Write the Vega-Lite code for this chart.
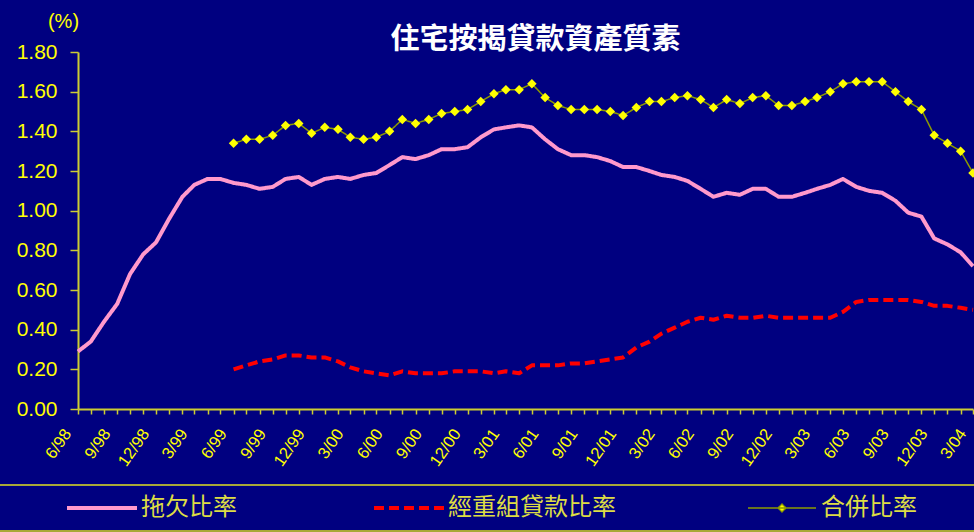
{
  "$schema": "https://vega.github.io/schema/vega-lite/v6.json",
  "width": 895,
  "height": 357,
  "autosize": {"type": "none"},
  "padding": {"left": 78, "top": 52, "right": 1, "bottom": 123},
  "background": "#000080",
  "config": {"view": {"stroke": null}, "font": "Liberation Sans", "legend": {"strokeWidth": 2}},
  "title": {"text": "住宅按揭貸款資產質素", "font": "Noto Sans CJK TC", "fontSize": 29, "fontWeight": "bold", "color": "#FFFFFF", "anchor": "middle", "frame": "group", "dx": 10, "offset": 0, "dy": 44},
  "data": {"values": [
    {"月份": "1998-06", "拖欠比率": 0.29},
    {"月份": "1998-07", "拖欠比率": 0.34},
    {"月份": "1998-08", "拖欠比率": 0.44},
    {"月份": "1998-09", "拖欠比率": 0.53},
    {"月份": "1998-10", "拖欠比率": 0.68},
    {"月份": "1998-11", "拖欠比率": 0.78},
    {"月份": "1998-12", "拖欠比率": 0.84},
    {"月份": "1999-01", "拖欠比率": 0.96},
    {"月份": "1999-02", "拖欠比率": 1.07},
    {"月份": "1999-03", "拖欠比率": 1.13},
    {"月份": "1999-04", "拖欠比率": 1.16},
    {"月份": "1999-05", "拖欠比率": 1.16},
    {"月份": "1999-06", "拖欠比率": 1.14, "經重組貸款比率": 0.20, "合併比率": 1.34},
    {"月份": "1999-07", "拖欠比率": 1.13, "經重組貸款比率": 0.22, "合併比率": 1.36},
    {"月份": "1999-08", "拖欠比率": 1.11, "經重組貸款比率": 0.24, "合併比率": 1.36},
    {"月份": "1999-09", "拖欠比率": 1.12, "經重組貸款比率": 0.25, "合併比率": 1.38},
    {"月份": "1999-10", "拖欠比率": 1.16, "經重組貸款比率": 0.27, "合併比率": 1.43},
    {"月份": "1999-11", "拖欠比率": 1.17, "經重組貸款比率": 0.27, "合併比率": 1.44},
    {"月份": "1999-12", "拖欠比率": 1.13, "經重組貸款比率": 0.26, "合併比率": 1.39},
    {"月份": "2000-01", "拖欠比率": 1.16, "經重組貸款比率": 0.26, "合併比率": 1.42},
    {"月份": "2000-02", "拖欠比率": 1.17, "經重組貸款比率": 0.24, "合併比率": 1.41},
    {"月份": "2000-03", "拖欠比率": 1.16, "經重組貸款比率": 0.21, "合併比率": 1.37},
    {"月份": "2000-04", "拖欠比率": 1.18, "經重組貸款比率": 0.19, "合併比率": 1.36},
    {"月份": "2000-05", "拖欠比率": 1.19, "經重組貸款比率": 0.18, "合併比率": 1.37},
    {"月份": "2000-06", "拖欠比率": 1.23, "經重組貸款比率": 0.17, "合併比率": 1.40},
    {"月份": "2000-07", "拖欠比率": 1.27, "經重組貸款比率": 0.19, "合併比率": 1.46},
    {"月份": "2000-08", "拖欠比率": 1.26, "經重組貸款比率": 0.18, "合併比率": 1.44},
    {"月份": "2000-09", "拖欠比率": 1.28, "經重組貸款比率": 0.18, "合併比率": 1.46},
    {"月份": "2000-10", "拖欠比率": 1.31, "經重組貸款比率": 0.18, "合併比率": 1.49},
    {"月份": "2000-11", "拖欠比率": 1.31, "經重組貸款比率": 0.19, "合併比率": 1.50},
    {"月份": "2000-12", "拖欠比率": 1.32, "經重組貸款比率": 0.19, "合併比率": 1.51},
    {"月份": "2001-01", "拖欠比率": 1.37, "經重組貸款比率": 0.19, "合併比率": 1.55},
    {"月份": "2001-02", "拖欠比率": 1.41, "經重組貸款比率": 0.18, "合併比率": 1.59},
    {"月份": "2001-03", "拖欠比率": 1.42, "經重組貸款比率": 0.19, "合併比率": 1.61},
    {"月份": "2001-04", "拖欠比率": 1.43, "經重組貸款比率": 0.18, "合併比率": 1.61},
    {"月份": "2001-05", "拖欠比率": 1.42, "經重組貸款比率": 0.22, "合併比率": 1.64},
    {"月份": "2001-06", "拖欠比率": 1.36, "經重組貸款比率": 0.22, "合併比率": 1.57},
    {"月份": "2001-07", "拖欠比率": 1.31, "經重組貸款比率": 0.22, "合併比率": 1.53},
    {"月份": "2001-08", "拖欠比率": 1.28, "經重組貸款比率": 0.23, "合併比率": 1.51},
    {"月份": "2001-09", "拖欠比率": 1.28, "經重組貸款比率": 0.23, "合併比率": 1.51},
    {"月份": "2001-10", "拖欠比率": 1.27, "經重組貸款比率": 0.24, "合併比率": 1.51},
    {"月份": "2001-11", "拖欠比率": 1.25, "經重組貸款比率": 0.25, "合併比率": 1.50},
    {"月份": "2001-12", "拖欠比率": 1.22, "經重組貸款比率": 0.26, "合併比率": 1.48},
    {"月份": "2002-01", "拖欠比率": 1.22, "經重組貸款比率": 0.31, "合併比率": 1.52},
    {"月份": "2002-02", "拖欠比率": 1.20, "經重組貸款比率": 0.34, "合併比率": 1.55},
    {"月份": "2002-03", "拖欠比率": 1.18, "經重組貸款比率": 0.38, "合併比率": 1.55},
    {"月份": "2002-04", "拖欠比率": 1.17, "經重組貸款比率": 0.41, "合併比率": 1.57},
    {"月份": "2002-05", "拖欠比率": 1.15, "經重組貸款比率": 0.44, "合併比率": 1.58},
    {"月份": "2002-06", "拖欠比率": 1.11, "經重組貸款比率": 0.46, "合併比率": 1.56},
    {"月份": "2002-07", "拖欠比率": 1.07, "經重組貸款比率": 0.45, "合併比率": 1.52},
    {"月份": "2002-08", "拖欠比率": 1.09, "經重組貸款比率": 0.47, "合併比率": 1.56},
    {"月份": "2002-09", "拖欠比率": 1.08, "經重組貸款比率": 0.46, "合併比率": 1.54},
    {"月份": "2002-10", "拖欠比率": 1.11, "經重組貸款比率": 0.46, "合併比率": 1.57},
    {"月份": "2002-11", "拖欠比率": 1.11, "經重組貸款比率": 0.47, "合併比率": 1.58},
    {"月份": "2002-12", "拖欠比率": 1.07, "經重組貸款比率": 0.46, "合併比率": 1.53},
    {"月份": "2003-01", "拖欠比率": 1.07, "經重組貸款比率": 0.46, "合併比率": 1.53},
    {"月份": "2003-02", "拖欠比率": 1.09, "經重組貸款比率": 0.46, "合併比率": 1.55},
    {"月份": "2003-03", "拖欠比率": 1.11, "經重組貸款比率": 0.46, "合併比率": 1.57},
    {"月份": "2003-04", "拖欠比率": 1.13, "經重組貸款比率": 0.46, "合併比率": 1.60},
    {"月份": "2003-05", "拖欠比率": 1.16, "經重組貸款比率": 0.49, "合併比率": 1.64},
    {"月份": "2003-06", "拖欠比率": 1.12, "經重組貸款比率": 0.54, "合併比率": 1.65},
    {"月份": "2003-07", "拖欠比率": 1.10, "經重組貸款比率": 0.55, "合併比率": 1.65},
    {"月份": "2003-08", "拖欠比率": 1.09, "經重組貸款比率": 0.55, "合併比率": 1.65},
    {"月份": "2003-09", "拖欠比率": 1.05, "經重組貸款比率": 0.55, "合併比率": 1.60},
    {"月份": "2003-10", "拖欠比率": 0.99, "經重組貸款比率": 0.55, "合併比率": 1.55},
    {"月份": "2003-11", "拖欠比率": 0.97, "經重組貸款比率": 0.54, "合併比率": 1.51},
    {"月份": "2003-12", "拖欠比率": 0.86, "經重組貸款比率": 0.52, "合併比率": 1.38},
    {"月份": "2004-01", "拖欠比率": 0.83, "經重組貸款比率": 0.52, "合併比率": 1.34},
    {"月份": "2004-02", "拖欠比率": 0.79, "經重組貸款比率": 0.51, "合併比率": 1.30},
    {"月份": "2004-03", "拖欠比率": 0.72, "經重組貸款比率": 0.50, "合併比率": 1.19}
  ]},
  "transform": [
    {"fold": ["拖欠比率", "經重組貸款比率", "合併比率"], "as": ["系列", "比率"]},
    {"filter": "isValid(datum['比率'])"}
  ],
  "encoding": {
    "x": {
      "field": "月份", "type": "temporal",
      "scale": {"type": "utc", "domain": [{"year": 1998, "month": 6, "date": 1, "utc": true}, {"year": 2004, "month": 3, "date": 1, "utc": true}]},
      "axis": {
        "title": null,
        "grid": false,
        "tickCount": {"interval": "month", "step": 1},
        "labelExpr": "utcmonth(datum.value) % 3 == 2 ? utcFormat(datum.value, '%-m/%y') : ''",
        "labelAngle": -55, "labelAlign": "right", "labelBaseline": "bottom",
        "labelColor": "#FFFF00", "labelFontSize": 16.5, "labelFont": "Liberation Sans",
        "labelPadding": 21, "labelOffset": -4, "labelOverlap": false, "labelFlush": false, "labelBound": false,
        "tickColor": "#CCCC33", "tickSize": 5, "tickWidth": 1.5,
        "domainColor": "#CCCC33", "domainWidth": 2
      }
    },
    "y": {
      "field": "比率", "type": "quantitative",
      "scale": {"domain": [0, 1.8], "nice": false},
      "axis": {
        "title": "(%)", "titleAngle": 0, "titleX": -15, "titleY": -31,
        "titleAlign": "center", "titleBaseline": "middle",
        "titleColor": "#FFFF00", "titleFontSize": 20, "titleFontWeight": "normal", "titleFont": "Liberation Sans",
        "values": [0, 0.2, 0.4, 0.6, 0.8, 1.0, 1.2, 1.4, 1.6, 1.8],
        "format": ".2f", "grid": false,
        "labelColor": "#FFFF00", "labelFontSize": 21, "labelFont": "Liberation Sans", "labelPadding": 13, "labelFlush": false,
        "tickSize": 8, "tickColor": "#CCCC33", "tickWidth": 1.5,
        "domainColor": "#CCCC33", "domainWidth": 2
      }
    }
  },
  "layer": [
    {
      "mark": {"type": "line", "strokeCap": "butt", "strokeJoin": "round"},
      "encoding": {
        "color": {
          "field": "系列", "type": "nominal",
          "scale": {"domain": ["拖欠比率", "經重組貸款比率", "合併比率"], "range": ["#FF99CC", "#FF0000", "#8C9A00"]},
          "legend": {
            "title": "⠀", "titleOrient": "left", "titleFontSize": 10, "titlePadding": 55,
            "orient": "none", "legendX": -84, "legendY": 433, "direction": "horizontal",
            "padding": 11, "strokeColor": "#A8A838",
            "symbolSize": 400, "symbolStrokeWidth": 4, "symbolOffset": 23,
            "labelOffset": 27, "columnPadding": 129,
            "labelFont": "Noto Sans CJK TC", "labelFontSize": 24, "labelColor": "#DDDD44", "labelLimit": 400,
            "labelExpr": "datum.label == '合併比率' ? datum.label + '⠀⠀⠀' : datum.label",
            "encode": {
              "symbols": {
                "update": {
                  "shape": {"signal": "datum.value == '合併比率' ? 'M-3.4,0H3.4M0,-0.4L0.4,0L0,0.4L-0.4,0Z' : 'M-3.5,0H3.5'"},
                  "strokeWidth": {"signal": "datum.value == '合併比率' ? 1.3 : 4"},
                  "stroke": {"signal": "datum.value == '合併比率' ? '#FFFF00' : datum.value == '拖欠比率' ? '#FF99CC' : '#FF0000'"},
                  "fill": {"signal": "datum.value == '合併比率' ? '#FFFF00' : 'transparent'"},
                  "strokeDash": {"condition": {"test": "datum.value == '經重組貸款比率'", "value": [10, 14]}, "value": [1, 0]}
                }
              }
            }
          }
        },
        "strokeDash": {
          "field": "系列", "type": "nominal",
          "scale": {"domain": ["拖欠比率", "經重組貸款比率", "合併比率"], "range": [[1, 0], [10, 5], [1, 0]]},
          "legend": null
        },
        "strokeWidth": {"condition": {"test": "datum['系列'] == '合併比率'", "value": 1.5}, "value": 4}
      }
    },
    {
      "transform": [{"filter": "datum['系列'] == '合併比率'"}],
      "mark": {"type": "point", "shape": "diamond", "filled": true, "size": 90, "color": "#FFFF00", "opacity": 1}
    }
  ]
}
